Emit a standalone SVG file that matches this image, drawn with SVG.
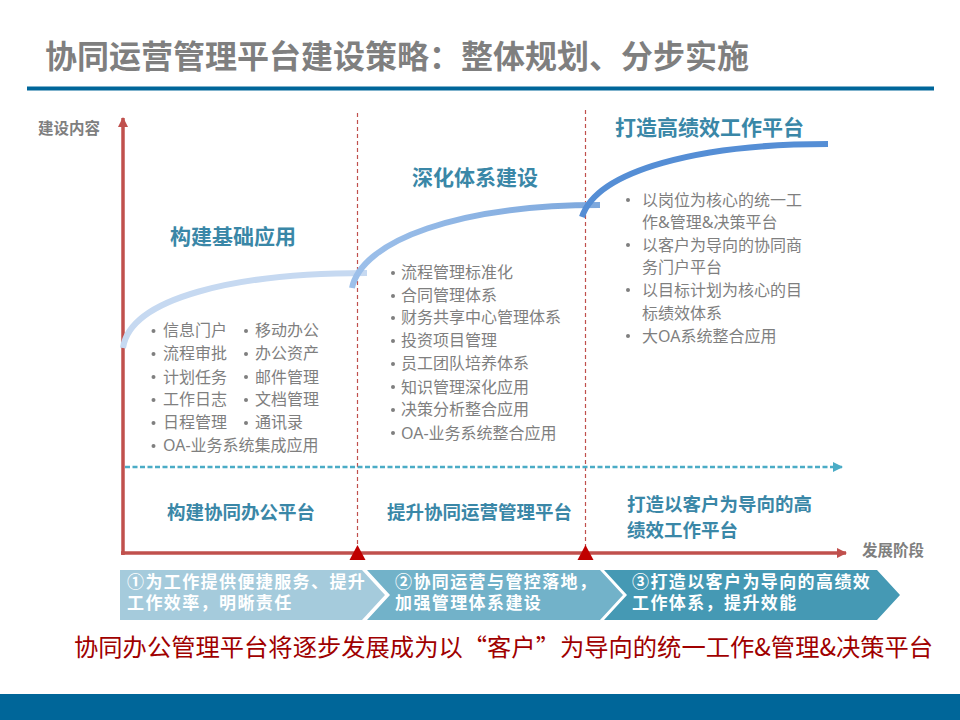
<svg xmlns="http://www.w3.org/2000/svg" width="960" height="720" viewBox="0 0 960 720">
<defs>
<style>
text{font-family:"Noto Sans","Noto Sans CJK SC",sans-serif}
.title{font-size:32px;font-weight:bold;fill:#7F7F7F}
.axl{font-size:15.5px;font-weight:bold;fill:#7F7F7F}
.stage{font-size:21px;font-weight:bold;fill:#3A87A7}
.plat{font-size:18.5px;font-weight:bold;fill:#3A87A7}
.li{font-size:16px;fill:#7F7F7F}
.chev{font-size:17px;font-weight:bold;fill:#FFFFFF;letter-spacing:1.4px}
.concl{font-size:24.3px;fill:#A00000;font-family:"Noto Sans CJK SC","Noto Sans",sans-serif}
.dot{fill:#7F7F7F}
.vdash{stroke:#C0504D;stroke-width:1.2;stroke-dasharray:4 3;fill:none}
</style>
<marker id="redArrow" viewBox="0 0 10 10" refX="9" refY="5" markerWidth="3" markerHeight="3" orient="auto" markerUnits="strokeWidth">
<path d="M0,0 L10,5 L0,10 Z" fill="#C0504D"/>
</marker>
<marker id="blueArrow" viewBox="0 0 10 10" refX="9" refY="5" markerWidth="4" markerHeight="4" orient="auto" markerUnits="strokeWidth">
<path d="M0,0 L10,5 L0,10 Z" fill="#4BACC6"/>
</marker>
<linearGradient id="g2" x1="0" y1="0" x2="1" y2="0">
<stop offset="0" stop-color="#9DC0EA"/>
<stop offset="1" stop-color="#7DA8DD"/>
</linearGradient>
</defs>
<rect x="0" y="0" width="960" height="720" fill="#FFFFFF"/>

<g id="header">
<text class="title" x="45" y="68">协同运营管理平台建设策略：整体规划、分步实施</text>
<rect x="27" y="86.5" width="907" height="4" fill="#00669A"/>
</g>

<g id="connectors">
<line class="vdash" x1="357.5" y1="113" x2="357.5" y2="552"/>
<line class="vdash" x1="585.5" y1="110" x2="585.5" y2="552"/>
<line x1="123" y1="555" x2="123" y2="118" stroke="#C0504D" stroke-width="3.5" marker-end="url(#redArrow)"/>
<line x1="121" y1="553" x2="846" y2="553" stroke="#C0504D" stroke-width="3.5" marker-end="url(#redArrow)"/>
<line x1="125" y1="467" x2="842" y2="467" stroke="#4BACC6" stroke-width="2.5" stroke-dasharray="5 2.5" marker-end="url(#blueArrow)"/>
<path d="M123,348 C130,298 235,273 367,273" fill="none" stroke="#C6D9F1" stroke-width="6"/>
<path d="M352,288 C362,240 460,205 600,205" fill="none" stroke="url(#g2)" stroke-width="6"/>
<path d="M582,217 C597,170 700,144 828,144" fill="none" stroke="#558ED5" stroke-width="6"/>
<path d="M349.5,560 L357.5,545 L365.5,560 Z" fill="#C00000"/>
<path d="M577.5,560 L585.5,545 L593.5,560 Z" fill="#C00000"/>
</g>

<g id="axis-labels">
<text class="axl" x="38" y="134">建设内容</text>
<text class="axl" x="862" y="556">发展阶段</text>
</g>

<g id="stage1">
<text class="stage" x="170" y="244">构建基础应用</text>
<circle class="dot" cx="153.5" cy="331" r="2"/><text class="li" x="163" y="336">信息门户</text>
<circle class="dot" cx="153.5" cy="354" r="2"/><text class="li" x="163" y="359">流程审批</text>
<circle class="dot" cx="153.5" cy="377" r="2"/><text class="li" x="163" y="383">计划任务</text>
<circle class="dot" cx="153.5" cy="400" r="2"/><text class="li" x="163" y="405">工作日志</text>
<circle class="dot" cx="153.5" cy="423" r="2"/><text class="li" x="163" y="428">日程管理</text>
<circle class="dot" cx="153.5" cy="446" r="2"/><text class="li" x="163" y="451">OA-业务系统集成应用</text>
<circle class="dot" cx="246" cy="331" r="2"/><text class="li" x="255" y="336">移动办公</text>
<circle class="dot" cx="246" cy="354" r="2"/><text class="li" x="255" y="359">办公资产</text>
<circle class="dot" cx="246" cy="377" r="2"/><text class="li" x="255" y="383">邮件管理</text>
<circle class="dot" cx="246" cy="400" r="2"/><text class="li" x="255" y="405">文档管理</text>
<circle class="dot" cx="246" cy="423" r="2"/><text class="li" x="255" y="428">通讯录</text>
</g>

<g id="stage2">
<text class="stage" x="412" y="184.5">深化体系建设</text>
<circle class="dot" cx="393" cy="273" r="2"/><text class="li" x="401" y="278">流程管理标准化</text>
<circle class="dot" cx="393" cy="296" r="2"/><text class="li" x="401" y="301">合同管理体系</text>
<circle class="dot" cx="393" cy="318" r="2"/><text class="li" x="401" y="323">财务共享中心管理体系</text>
<circle class="dot" cx="393" cy="341" r="2"/><text class="li" x="401" y="346">投资项目管理</text>
<circle class="dot" cx="393" cy="364" r="2"/><text class="li" x="401" y="369">员工团队培养体系</text>
<circle class="dot" cx="393" cy="387" r="2"/><text class="li" x="401" y="393">知识管理深化应用</text>
<circle class="dot" cx="393" cy="410" r="2"/><text class="li" x="401" y="415">决策分析整合应用</text>
<circle class="dot" cx="393" cy="433" r="2"/><text class="li" x="401" y="439">OA-业务系统整合应用</text>
</g>

<g id="stage3">
<text class="stage" x="615" y="134.5">打造高绩效工作平台</text>
<circle class="dot" cx="628" cy="200" r="2"/><text class="li" x="642" y="206">以岗位为核心的统一工</text>
<text class="li" x="642" y="228">作&amp;管理&amp;决策平台</text>
<circle class="dot" cx="628" cy="245" r="2"/><text class="li" x="642" y="251">以客户为导向的协同商</text>
<text class="li" x="642" y="273">务门户平台</text>
<circle class="dot" cx="628" cy="290" r="2"/><text class="li" x="642" y="296">以目标计划为核心的目</text>
<text class="li" x="642" y="319">标绩效体系</text>
<circle class="dot" cx="628" cy="336" r="2"/><text class="li" x="642" y="342">大OA系统整合应用</text>
</g>

<g id="platform1"><text class="plat" x="167" y="519">构建协同办公平台</text></g>
<g id="platform2"><text class="plat" x="387" y="519">提升协同运营管理平台</text></g>
<g id="platform3">
<text class="plat" x="627" y="511">打造以客户为导向的高</text>
<text class="plat" x="627" y="537">绩效工作平台</text>
</g>

<g id="chevron1">
<path d="M120,570 L362,570 L385,595 L362,620 L120,620 Z" fill="#A5CBDC"/>
<text class="chev" x="127" y="588">①为工作提供便捷服务、提升</text>
<text class="chev" x="127" y="609">工作效率，明晰责任</text>
</g>
<g id="chevron2">
<path d="M367,570 L600,570 L623,595 L600,620 L367,620 L390,595 Z" fill="#72B2C9"/>
<text class="chev" x="395" y="588">②协同运营与管控落地，</text>
<text class="chev" x="395" y="609">加强管理体系建设</text>
</g>
<g id="chevron3">
<path d="M604,570 L877,570 L900,595 L877,620 L604,620 L627,595 Z" fill="#4599B4"/>
<text class="chev" x="632" y="588">③打造以客户为导向的高绩效</text>
<text class="chev" x="632" y="609">工作体系，提升效能</text>
</g>

<g id="conclusion">
<text class="concl" x="74" y="656">协同办公管理平台将逐步发展成为以“客户”为导向的统一工作&amp;管理&amp;决策平台</text>
</g>
<rect id="footer" x="0" y="694" width="960" height="26" fill="#006699"/>
</svg>
